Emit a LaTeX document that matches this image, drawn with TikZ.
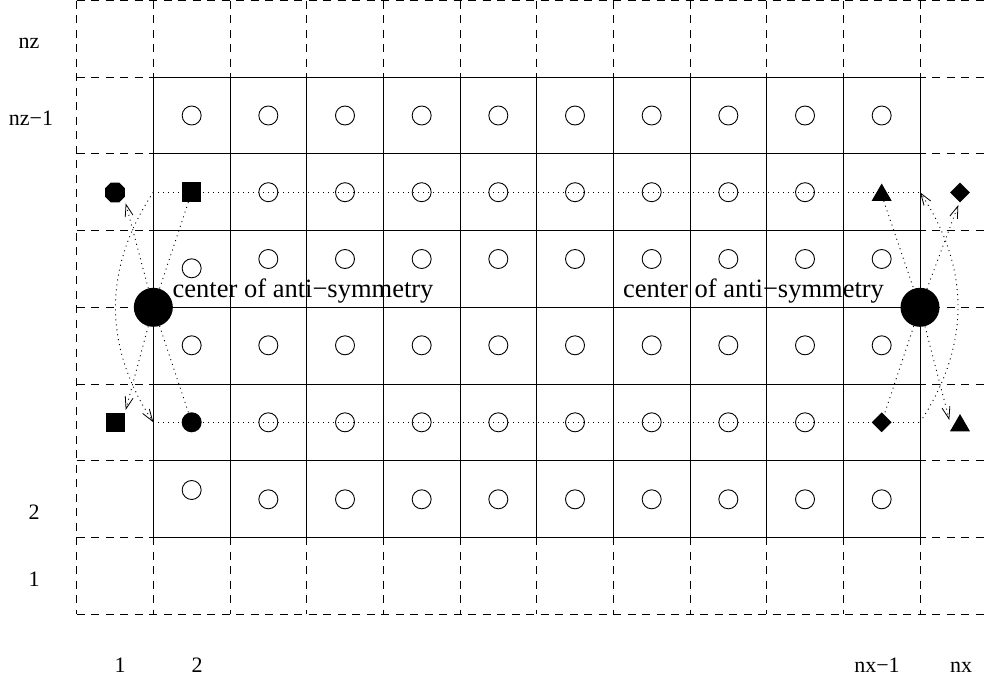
\documentclass[tikz,border=0pt]{standalone}
\usepackage{fontspec}
\setmainfont{Liberation Serif}
\usetikzlibrary{arrows.meta,shapes.geometric}
\begin{document}
\begin{tikzpicture}[x=1pt,y=-1pt,
  gridsolid/.style={line width=0.9pt},
  griddash/.style={line width=0.9pt, dash pattern=on 8pt off 6.5pt},
  dotline/.style={line width=0.9pt, dash pattern=on 1pt off 4pt},
  barb/.style={-{Straight Barb[length=12pt,width=8pt,line width=0.8pt]}},
  opencirc/.style={circle, draw, line width=0.9pt, minimum size=19pt, inner sep=0pt},
  blackdot/.style={circle, fill, minimum size=20pt, inner sep=0pt},
  bigdot/.style={circle, fill, minimum size=39pt, inner sep=0pt},
  sqmark/.style={rectangle, fill, minimum size=19.5pt, inner sep=0pt},
  octmark/.style={regular polygon, regular polygon sides=8, fill, minimum size=21.6pt, inner sep=0pt},
  trimark/.style={regular polygon, regular polygon sides=3, fill, minimum size=23pt, inner sep=0pt},
  diamark/.style={diamond, fill, minimum width=20pt, minimum height=20pt, inner sep=0pt},
  lab/.style={anchor=base, inner sep=0pt, font=\fontsize{22}{26}\selectfont},
  bigtext/.style={anchor=base west, inner sep=0pt, font=\fontsize{26.5}{30}\selectfont}
]
\useasboundingbox (0,0) rectangle (990,678);
\begin{scope}
  \clip (0,0) rectangle (990,678);
  % dashed outer grid
  \foreach \k in {0,...,12}
    \draw[griddash] ({76.667*(\k+1)},0.5) -- ({76.667*(\k+1)},614.1);
  \foreach \j in {0,...,8}
    \draw[griddash] (76.667,{0.5+76.7*\j}) -- (1000,{0.5+76.7*\j});
\end{scope}
% solid inner grid
\foreach \k in {1,...,11}
  \draw[gridsolid] ({76.667*(\k+1)},77.2) -- ({76.667*(\k+1)},537.4);
\foreach \j in {1,...,7}
  \draw[gridsolid] (153.33,{0.5+76.7*\j}) -- (920,{0.5+76.7*\j});

% open circles
\foreach \c in {2,...,11} \node[opencirc] (ra\c) at ({76.667*\c+38.33},115.5) {};
\foreach \c in {3,...,10} \node[opencirc] (rb\c) at ({76.667*\c+38.33},192.2) {};
\node[opencirc] (rc2) at (191.67,268.3) {};
\foreach \c in {3,...,11} \node[opencirc] (rc\c) at ({76.667*\c+38.33},259) {};
\foreach \c in {2,...,11} \node[opencirc] (rd\c) at ({76.667*\c+38.33},345.3) {};
\foreach \c in {3,...,10} \node[opencirc] (re\c) at ({76.667*\c+38.33},422.3) {};
\node[opencirc] (rf2) at (191.67,490) {};
\foreach \c in {3,...,11} \node[opencirc] (rf\c) at ({76.667*\c+38.33},499.3) {};

% special markers
\node[octmark] (octL) at (115,192.5) {};
\node[sqmark] (sqB) at (191.67,192.2) {};
\node[trimark] (triB) at (881.67,195) {};
\node[diamark] (diaR) at (960,192.5) {};
\node[sqmark] (sqL) at (115.5,422.3) {};
\node[blackdot] (dotE) at (191.67,422.3) {};
\node[diamark] (diaE) at (881.67,422.3) {};
\node[trimark] (triR) at (960,425.5) {};

% centers of anti-symmetry
\node[bigdot] (cL) at (153.33,307.3) {};
\node[bigdot] (cR) at (920,307.3) {};
\node[bigtext] (tL) at (172.5,297) {center of anti−symmetry};
\node[bigtext] (tR) at (623,297) {center of anti−symmetry};

% dotted rows
\coordinate (bl) at (153.33,192.2);
\coordinate (br) at (920,192.2);
\coordinate (el) at (153.33,422.3);
\coordinate (er) at (920,422.3);
\draw[dotline] (bl) -- (br);
\draw[dotline] (el) -- (er);

% straight connectors through the centers
\draw[dotline] (sqB) -- (cL);
\draw[dotline] (cL) -- (dotE);
\draw[dotline] (triB) -- (cR);
\draw[dotline] (cR) -- (diaE);

% arrow tips
\coordinate (tipOct) at (125.7,203.3);
\coordinate (tipSq) at (125.7,410);
\coordinate (tipDia) at (958.3,205);
\coordinate (tipTri) at (949.3,420);
\draw[dotline,barb] (cL) -- (tipOct);
\draw[dotline,barb] (cL) -- (tipSq);
\draw[dotline,barb] (cR) -- (tipDia);
\draw[dotline,barb] (cR) -- (tipTri);

% curved connectors
\draw[dotline,barb] (bl) .. controls (103,268) and (103,346) .. (el);
\draw[dotline,barb] (er) .. controls (970.5,346) and (970.5,268) .. (br);

% labels
\node[lab] (lnz) at (29,48) {nz};
\node[lab] (lnz1) at (31,125) {nz−1};
\node[lab] (lz2) at (34,519) {2};
\node[lab] (lz1) at (34,586) {1};
\node[lab] (lx1) at (120,672) {1};
\node[lab] (lx2) at (197,672) {2};
\node[lab] (lnx1) at (877,672) {nx−1};
\node[lab] (lnx) at (961,672) {nx};
\end{tikzpicture}
\end{document}
